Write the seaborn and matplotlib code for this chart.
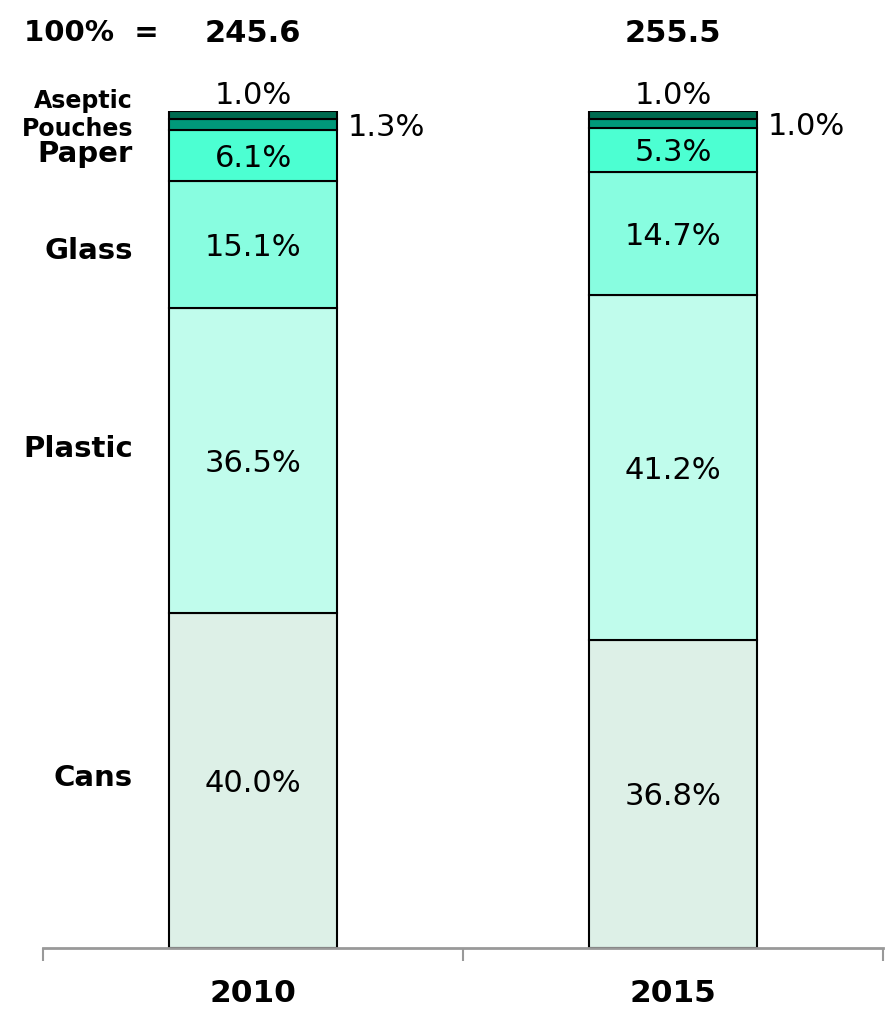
import matplotlib
matplotlib.use("Agg")
import matplotlib.pyplot as plt
import seaborn as sns
import numpy as np
import pandas as pd

years = ["2010", "2015"]
totals = ["245.6", "255.5"]
categories = ["Cans", "Plastic", "Glass", "Paper", "Pouches", "Aseptic"]
cans = [40.0, 36.8]
plastic = [36.5, 41.2]
glass = [15.1, 14.7]
paper = [6.1, 5.3]
pouches = [1.3, 1.0]
aseptic = [1.0, 1.0]
colors = ["#DDF0E7", "#C0FCEC", "#88FDE0", "#4CFFD2", "#00997A", "#006B50"]

series = [cans, plastic, glass, paper, pouches, aseptic]

sns.set_style("white")
plt.rcParams['font.family'] = ['DejaVu Sans']
plt.rcParams['text.color'] = 'black'
plt.rcParams['xtick.color'] = 'black'

fig = plt.figure(figsize=(8.88, 10.13), dpi=100)
ax = fig.add_axes([43 / 888, 1 - 948 / 1013, 840 / 888, (948 - 111) / 1013])

bottom = np.zeros(len(years))
for cat, vals, col in zip(categories, series, colors):
    df = pd.DataFrame({"year": years, "val": vals})
    sns.barplot(data=df, x="year", y="val", bottom=bottom.copy(), color=col,
                width=0.4, edgecolor="black", linewidth=1.5, ax=ax, saturation=1)
    bottom = bottom + np.array(vals)

ax.set_xlim(-0.5, 1.5)
ax.set_ylim(0, 100)
ax.set_ylabel("")
ax.set_xlabel("")
ax.set_yticks([])
for s in ["top", "left", "right"]:
    ax.spines[s].set_visible(False)
ax.spines["bottom"].set_color("#999999")
ax.spines["bottom"].set_linewidth(2)
ax.set_xticks([0, 1])
ax.set_xticklabels(years, fontsize=22.5, fontweight="bold", color="black")
ax.tick_params(axis="x", which="major", length=0, pad=22)
ax.set_xticks([-0.5, 0.5, 1.5], minor=True)
ax.tick_params(axis="x", which="minor", bottom=True, length=9, width=1.5,
               color="#999999", direction="out")

# value labels
fs = 22
for i in range(len(years)):
    cum = 0
    for j, vals in enumerate(series):
        v = vals[i]
        mid = cum + v / 2
        if j < 4:
            ax.annotate(f"{v:.1f}%", xy=(i, mid), xytext=(0, -2), textcoords="offset points",
                        ha="center", va="center", fontsize=fs, color="black")
        elif j == 4:
            ax.annotate(f"{v:.1f}%", xy=(i + 0.2, mid), xytext=(8, -2),
                        textcoords="offset points", ha="left", va="center", fontsize=fs, color="black")
        else:
            ax.annotate(f"{v:.1f}%", xy=(i, 100), xytext=(0, 1),
                        textcoords="offset points", ha="center", va="bottom", fontsize=fs, color="black")
        cum += v

# category labels (left)
cum = 0
lab_x = (133 - 43) / 840
for j, (cat, vals) in enumerate(zip(categories, series)):
    v = vals[0]
    mid = cum + v / 2
    if j < 4:
        ax.annotate(cat, xy=(lab_x, mid), xycoords=("axes fraction", "data"),
                    ha="right", va="center", fontsize=21, fontweight="bold", color="black",
                    xytext=(0, {0: 2, 1: 8, 2: -5, 3: 1}[j]), textcoords="offset points")
    elif j == 4:
        ax.annotate(cat, xy=(lab_x, mid), xycoords=("axes fraction", "data"),
                    ha="right", va="center", fontsize=17, fontweight="bold", color="black",
                    xytext=(0, -3), textcoords="offset points")
    else:
        ax.annotate(cat, xy=(lab_x, 100), xycoords=("axes fraction", "data"),
                    ha="right", va="center", fontsize=17, fontweight="bold", color="black",
                    xytext=(0, 7), textcoords="offset points")
    cum += v

# totals
top_y = (948 - 33) / 837 * 100
fig.text(24 / 888, 1 - 33 / 1013, "100%  =", ha="left", va="center", fontsize=21,
         fontweight="bold", color="black")
for i, t in enumerate(totals):
    ax.text(i, top_y, t, ha="center", va="center", fontsize=22, fontweight="bold",
            clip_on=False, color="black")

fig.savefig("out.png", dpi=100)
